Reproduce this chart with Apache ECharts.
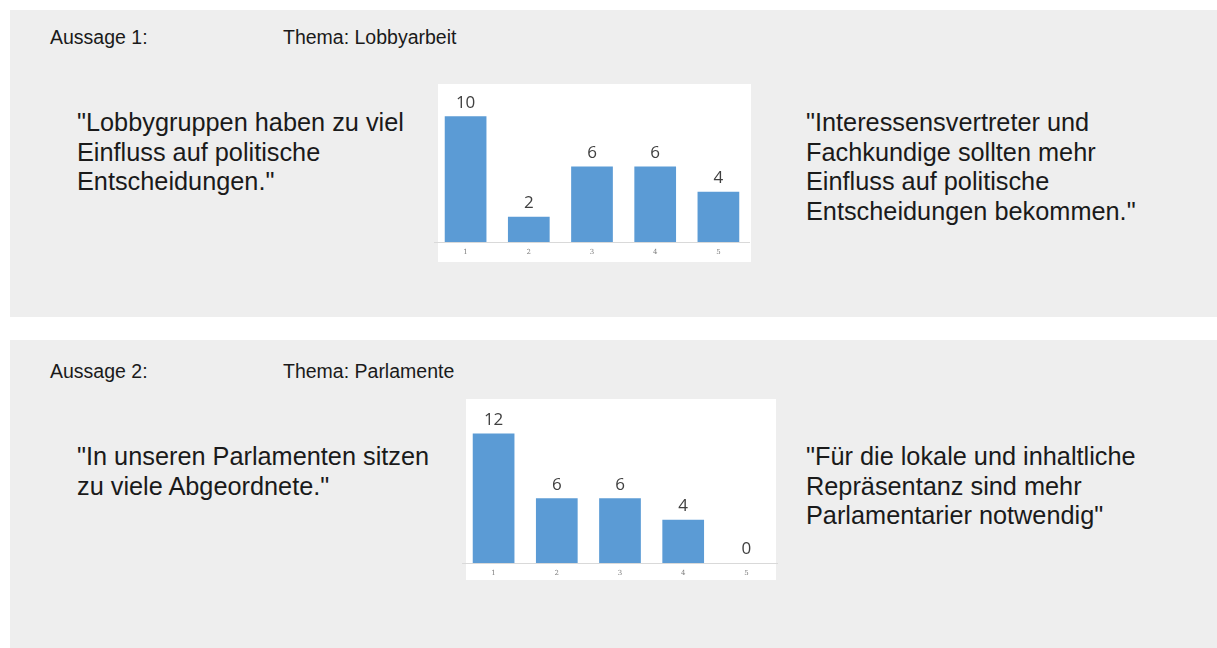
<!DOCTYPE html>
<html>
<head>
<meta charset="utf-8">
<script src="https://cdn.jsdelivr.net/npm/echarts@6/dist/echarts.min.js"></script>
<style>
  html, body { margin: 0; padding: 0; background: #fff; }
  body { width: 1217px; height: 648px; position: relative; overflow: hidden;
         font-family: "Liberation Sans", Arial, sans-serif; color: #1a1a1a; }
  .panel { position: absolute; left: 10px; right: 0; background: #eeeeee; }
  .small { position: absolute; font-size: 19.5px; line-height: 20px; white-space: nowrap; }
  .quote { position: absolute; font-size: 25.3px; line-height: 29.6px; white-space: nowrap; }
  .box { position: absolute; background: #fff; }
  .chart { position: absolute; }
</style>
</head>
<body>
  <div class="panel" style="top:10px;height:307px"></div>
  <div class="panel" style="top:340px;height:308px"></div>

  <div class="small" style="left:50px;top:27px">Aussage 1:</div>
  <div class="small" style="left:283px;top:27px">Thema: Lobbyarbeit</div>
  <div class="quote" style="left:77px;top:108px">"Lobbygruppen haben zu viel<br>Einfluss auf politische<br>Entscheidungen."</div>
  <div class="quote" style="left:806px;top:108px">"Interessensvertreter und<br>Fachkundige sollten mehr<br>Einfluss auf politische<br>Entscheidungen bekommen."</div>

  <div class="small" style="left:50px;top:361px">Aussage 2:</div>
  <div class="small" style="left:283px;top:361px">Thema: Parlamente</div>
  <div class="quote" style="left:77px;top:442px">"In unseren Parlamenten sitzen<br>zu viele Abgeordnete."</div>
  <div class="quote" style="left:806px;top:442px">"Für die lokale und inhaltliche<br>Repräsentanz sind mehr<br>Parlamentarier notwendig"</div>

  <div class="box" style="left:438px;top:84px;width:313px;height:178px"></div>
  <div class="box" style="left:466px;top:399px;width:310px;height:181px"></div>
  <div id="main" class="chart" style="left:434px;top:84px;width:316px;height:178px"></div>
  <div id="main2" class="chart" style="left:462px;top:399px;width:316px;height:181px"></div>

<script>
var categories = ["1", "2", "3", "4", "5"];
var lobbyValues = [10, 2, 6, 6, 4];
var parlamentValues = [12, 6, 6, 4, 0];

function barOption(values, top, bottom, max) {
  return {
    animation: false,
    grid: { left: 0, right: 0, top: top, bottom: bottom },
    xAxis: {
      type: "category",
      data: categories,
      axisLine: { lineStyle: { color: "#d9d9d9", width: 1 } },
      axisTick: { show: false },
      axisLabel: { color: "#7f7f7f", fontSize: 7, margin: 7, fontFamily: "DejaVu Serif" }
    },
    yAxis: {
      type: "value",
      min: 0,
      max: max,
      show: false
    },
    series: [
      {
        type: "bar",
        data: values,
        barWidth: "66%",
        itemStyle: { color: "#5b9bd5" },
        label: {
          show: true,
          position: "top",
          distance: 5,
          color: "#404040",
          fontSize: 17,
          fontFamily: "Open Sans"
        }
      }
    ]
  };
}

var chart1 = echarts.init(document.getElementById("main"));
chart1.setOption(barOption(lobbyValues, 7, 20, 12));

var chart2 = echarts.init(document.getElementById("main2"));
chart2.setOption(barOption(parlamentValues, 13, 17, 14));
</script>
</body>
</html>
